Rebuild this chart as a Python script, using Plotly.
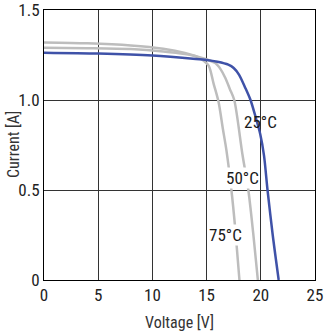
import plotly.graph_objects as go

# Data
v_25 = [0, 5, 10, 14, 15, 16, 17, 17.5, 18, 18.55, 19.05, 19.5, 19.95, 20.3, 20.62, 21.1, 21.65]
i_25 = [1.263, 1.258, 1.247, 1.228, 1.222, 1.212, 1.196, 1.178, 1.14, 1.07, 1.0, 0.91, 0.81, 0.69, 0.5, 0.25, 0.0]

v_50 = [0, 4, 8, 11, 13, 14.5, 15.8, 16.3, 16.73, 17.15, 17.55, 18.3, 18.85, 19.3, 19.73]
i_50 = [1.29, 1.288, 1.283, 1.27, 1.255, 1.235, 1.205, 1.17, 1.122, 1.06, 1.0, 0.70, 0.5, 0.26, 0.0]

v_75 = [0, 4, 8, 11, 13, 14, 14.7, 15.2, 15.65, 16.1, 16.5, 16.82, 17.29, 17.65, 18.03]
i_75 = [1.32, 1.315, 1.303, 1.285, 1.262, 1.243, 1.22, 1.19, 1.09, 0.99, 0.84, 0.724, 0.5, 0.28, 0.0]

x_ticks = [0, 5, 10, 15, 20, 25]
x_tick_text = ["0", "5", "10", "15", "20", "25"]
y_ticks = [0, 0.5, 1.0, 1.5]
y_tick_text = ["0", "0.5", "1.0", "1.5"]

labels = ["25°C", "50°C", "75°C"]
label_x = [20.0, 18.35, 16.7]
label_y = [0.88, 0.566, 0.252]
label_bg = ["rgba(0,0,0,0)", "white", "white"]

FONT = "Liberation Sans Narrow, Roboto Condensed, Arial Narrow, Roboto, sans-serif"
BLUE = "#3F52A8"
GRAY = "#BDBDBD"

fig = go.Figure()
fig.add_trace(go.Scatter(x=v_75, y=i_75, mode="lines",
                         line=dict(color=GRAY, width=2.5, shape="spline", smoothing=0.8)))
fig.add_trace(go.Scatter(x=v_50, y=i_50, mode="lines",
                         line=dict(color=GRAY, width=2.5, shape="spline", smoothing=0.8)))
fig.add_trace(go.Scatter(x=v_25, y=i_25, mode="lines",
                         line=dict(color=BLUE, width=2.5, shape="spline", smoothing=0.8)))

for t, x, y, bg in zip(labels, label_x, label_y, label_bg):
    fig.add_annotation(x=x, y=y, text=t, showarrow=False,
                       font=dict(family=FONT, size=17, color="#1a1a1a"),
                       bgcolor=bg, borderpad=0)

# y-axis title placed as a rotated annotation for exact positioning
fig.add_annotation(xref="paper", yref="paper", x=0, y=0.5, text="Current [A]",
                   textangle=-90, showarrow=False, xanchor="center", yanchor="middle",
                   xshift=-31, font=dict(family=FONT, size=16, color="#333333"))

axis_common = dict(showline=True, mirror=True, linecolor="black", linewidth=1,
                   showgrid=True, gridcolor="#333333", gridwidth=1,
                   zeroline=False, ticks="", automargin=False,
                   ticklabeloverflow="allow",
                   tickfont=dict(family=FONT, size=17, color="#222222"))

fig.update_layout(
    width=325, height=335,
    margin=dict(l=44, r=10, t=10, b=55),
    plot_bgcolor="white", paper_bgcolor="white",
    showlegend=False,
    xaxis=dict(range=[0, 25], tickvals=x_ticks, ticktext=x_tick_text,
               title=dict(text="Voltage [V]", font=dict(family=FONT, size=16, color="#333333"),
                          standoff=12),
               **axis_common),
    yaxis=dict(range=[0, 1.5], tickvals=y_ticks, ticktext=y_tick_text,
               **axis_common),
)

# remove the default page margin so the figure sits at the window's top-left corner
fig.write_html("out.html", config={"displayModeBar": False},
               post_script="document.body.style.margin='0';")
